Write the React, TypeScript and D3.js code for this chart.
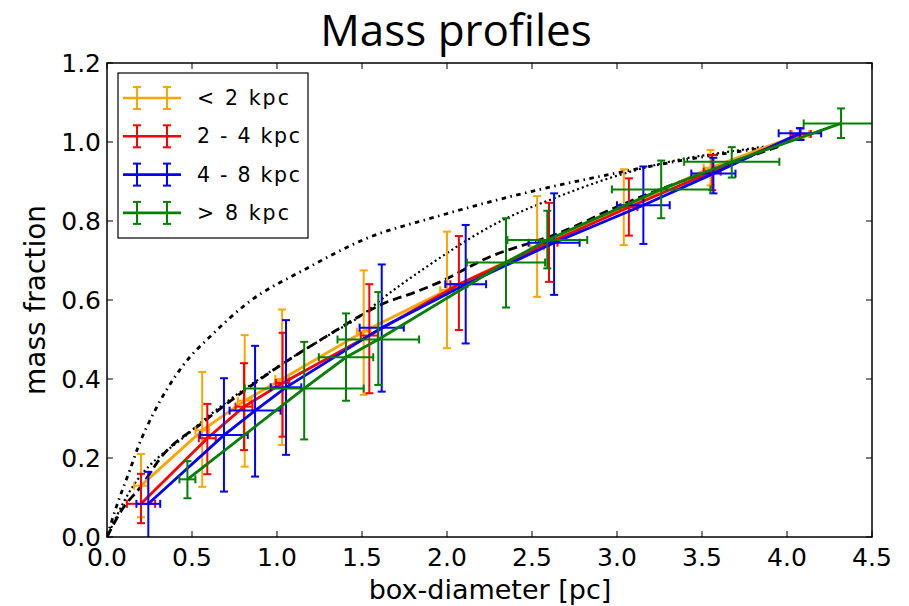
import React from "react";
import * as d3 from "d3";

// ---------- data ----------
const xTicks = [0, 0.5, 1.0, 1.5, 2.0, 2.5, 3.0, 3.5, 4.0, 4.5];
const yTicks = [0, 0.2, 0.4, 0.6, 0.8, 1.0, 1.2];

// [x, y, yLow, yHigh, xErr]
const lt2kpc = [
  [0.20, 0.13, 0.05, 0.21, 0.04],
  [0.56, 0.27, 0.127, 0.418, 0.04],
  [0.81, 0.345, 0.178, 0.511, 0.04],
  [1.03, 0.40, 0.233, 0.576, 0.04],
  [1.51, 0.52, 0.36, 0.675, 0.04],
  [2.00, 0.625, 0.478, 0.773, 0.04],
  [2.53, 0.735, 0.608, 0.863, 0.04],
  [3.04, 0.835, 0.739, 0.931, 0.04],
  [3.55, 0.935, 0.89, 0.98, 0.04],
  [4.08, 1.02, 1.008, 1.032, 0.05],
];
const kpc2to4 = [
  [0.20, 0.084, 0.035, 0.16, 0.083],
  [0.59, 0.25, 0.159, 0.337, 0.05],
  [0.806, 0.33, 0.22, 0.44, 0.05],
  [1.033, 0.39, 0.254, 0.517, 0.04],
  [1.543, 0.51, 0.364, 0.64, 0.05],
  [2.07, 0.64, 0.524, 0.762, 0.05],
  [2.60, 0.745, 0.646, 0.846, 0.05],
  [3.07, 0.835, 0.763, 0.908, 0.05],
  [3.56, 0.925, 0.878, 0.967, 0.05],
  [4.08, 1.02, 1.005, 1.035, 0.06],
];
const kpc4to8 = [
  [0.243, 0.084, -0.02, 0.165, 0.07],
  [0.688, 0.258, 0.115, 0.402, 0.14],
  [0.871, 0.32, 0.153, 0.484, 0.15],
  [1.053, 0.379, 0.208, 0.549, 0.09],
  [1.616, 0.53, 0.368, 0.69, 0.13],
  [2.11, 0.64, 0.49, 0.79, 0.12],
  [2.63, 0.745, 0.613, 0.87, 0.15],
  [3.155, 0.84, 0.742, 0.938, 0.155],
  [3.567, 0.92, 0.87, 0.96, 0.13],
  [4.076, 1.022, 1.005, 1.035, 0.125],
];
const gt8kpc = [
  [0.473, 0.146, 0.098, 0.192, 0.047],
  [1.16, 0.376, 0.247, 0.494, 0.35],
  [1.406, 0.455, 0.345, 0.566, 0.16],
  [1.596, 0.50, 0.385, 0.62, 0.24],
  [2.347, 0.695, 0.581, 0.807, 0.23],
  [2.59, 0.752, 0.68, 0.826, 0.235],
  [3.26, 0.88, 0.807, 0.953, 0.29],
  [3.675, 0.95, 0.91, 0.987, 0.28],
  [4.318, 1.047, 1.01, 1.085, 0.22],
];

// model curves [x, y]
const modelDashDot = [
  [0, 0], [0.05, 0.07], [0.135, 0.17], [0.184, 0.229], [0.27, 0.31], [0.44, 0.43],
  [0.625, 0.515], [0.82, 0.59], [1.175, 0.68], [1.527, 0.756], [1.93, 0.81],
  [2.45, 0.87], [2.98, 0.92], [3.39, 0.954], [3.7, 0.975], [3.96, 0.99],
];
const modelDotted = [
  [0, 0], [0.1, 0.09], [0.5, 0.27], [1.0, 0.43], [1.3, 0.51], [1.51, 0.565],
  [1.61, 0.6], [1.88, 0.684], [2.29, 0.794], [2.68, 0.866], [3.08, 0.925],
  [3.35, 0.954], [3.7, 0.978], [3.98, 0.995],
];
const modelDashed = [
  [0, 0], [0.086, 0.068], [0.2, 0.128], [0.32, 0.203], [0.557, 0.288], [1.008, 0.431],
  [1.29, 0.508], [1.49, 0.56], [1.606, 0.587], [1.82, 0.621], [1.94, 0.642],
  [2.23, 0.705], [2.68, 0.773], [3.0, 0.836], [3.5, 0.92], [3.96, 0.99],
];

const seriesLabels = ["< 2 kpc", "2 - 4 kpc", "4 - 8 kpc", "> 8 kpc"];
const seriesColors = ["#ffa500", "#ff0000", "#0000ff", "#008000"];
const seriesData = [lt2kpc, kpc2to4, kpc4to8, gt8kpc];

// ---------- layout ----------
const W = 909, H = 606;
const L = 107, R = 872, T = 63, B = 537;
const TICKFONT = "'DejaVu Sans', sans-serif";
const legendTextWidths = [92, 103, 103, 92];

export default function App() {
  const x = d3.scaleLinear().domain([0, 4.5]).range([L, R]);
  const y = d3.scaleLinear().domain([0, 1.2]).range([B, T]);
  const line = d3.line<number[]>().x(d => x(d[0])).y(d => y(d[1]));
  const smooth = d3.line<number[]>().x(d => x(d[0])).y(d => y(d[1])).curve(d3.curveMonotoneX);
  const cap = 4;

  const renderSeries = (data: number[][], color: string, i: number) => (
    <g key={i}>
      <path d={line(data) || ""} fill="none" stroke={color} strokeWidth={2.8} />
      {data.map((d, j) => {
        const cx = x(d[0]), cy = y(d[1]);
        const ylo = y(d[2]), yhi = y(d[3]);
        const xl = x(d[0] - d[4]), xr = x(d[0] + d[4]);
        return (
          <g key={j} stroke={color} strokeWidth={2}>
            <line x1={cx} x2={cx} y1={ylo} y2={yhi} />
            <line x1={cx - cap} x2={cx + cap} y1={ylo} y2={ylo} />
            <line x1={cx - cap} x2={cx + cap} y1={yhi} y2={yhi} />
            <line x1={xl} x2={xr} y1={cy} y2={cy} />
            <line x1={xl} x2={xl} y1={cy - cap} y2={cy + cap} />
            <line x1={xr} x2={xr} y1={cy - cap} y2={cy + cap} />
          </g>
        );
      })}
    </g>
  );

  return (
    <svg width={W} height={H} style={{ position: "fixed", left: 0, top: 0, background: "#fff" }}>
      <rect x={0} y={0} width={W} height={H} fill="#fff" />
      <defs>
        <clipPath id="plotclip">
          <rect x={L} y={T} width={R - L} height={B - T} />
        </clipPath>
      </defs>
      <text x={456} y={46} textAnchor="middle" fontFamily="'Open Sans', sans-serif" fontSize={44} fill="#000">
        Mass profiles
      </text>

      <g clipPath="url(#plotclip)">
        <path d={smooth(modelDashDot) || ""} fill="none" stroke="#000" strokeWidth={2.8} strokeDasharray="4.5,4.5,1.5,4.5" />
        <path d={smooth(modelDotted) || ""} fill="none" stroke="#000" strokeWidth={2.2} strokeDasharray="2,3" />
        <path d={smooth(modelDashed) || ""} fill="none" stroke="#000" strokeWidth={2.8} strokeDasharray="9,5" />
        {seriesData.map((s, i) => renderSeries(s, seriesColors[i], i))}
      </g>

      {/* frame */}
      <rect x={L} y={T} width={R - L} height={B - T} fill="none" stroke="#000" strokeWidth={1.5} />

      {/* x ticks */}
      {xTicks.map((t, i) => (
        <g key={"xt" + i}>
          <line x1={x(t)} x2={x(t)} y1={B} y2={B - 6} stroke="#000" strokeWidth={1} />
          <line x1={x(t)} x2={x(t)} y1={T} y2={T + 6} stroke="#000" strokeWidth={1} />
          <text x={x(t)} y={B + 29} textAnchor="middle" fontFamily={TICKFONT} fontSize={25} fill="#000">
            {t.toFixed(1)}
          </text>
        </g>
      ))}
      {/* y ticks */}
      {yTicks.map((t, i) => (
        <g key={"yt" + i}>
          <line x1={L} x2={L + 6} y1={y(t)} y2={y(t)} stroke="#000" strokeWidth={1} />
          <line x1={R} x2={R - 6} y1={y(t)} y2={y(t)} stroke="#000" strokeWidth={1} />
          <text x={L - 6} y={y(t) + 9} textAnchor="end" fontFamily={TICKFONT} fontSize={25} fill="#000">
            {t.toFixed(1)}
          </text>
        </g>
      ))}

      <text x={490} y={599} textAnchor="middle" fontFamily={TICKFONT} fontSize={27} fill="#000">
        box-diameter [pc]
      </text>
      <text transform={`translate(45,${(T + B) / 2}) rotate(-90)`} textAnchor="middle" fontFamily={TICKFONT} fontSize={28} fill="#000">
        mass fraction
      </text>

      {/* legend */}
      <rect x={118} y={73} width={190} height={165} fill="#fff" stroke="#000" strokeWidth={1.2} />
      {seriesLabels.map((lab, i) => {
        const ly = 98 + i * 38.3;
        const c = seriesColors[i];
        return (
          <g key={"lg" + i}>
            <g stroke={c} strokeWidth={2}>
              <line x1={123} x2={181} y1={ly} y2={ly} strokeWidth={2.6} />
              {[137, 167].map((mx, k) => (
                <g key={k}>
                  <line x1={mx} x2={mx} y1={ly - 11} y2={ly + 11} />
                  <line x1={mx - cap} x2={mx + cap} y1={ly - 11} y2={ly - 11} />
                  <line x1={mx - cap} x2={mx + cap} y1={ly + 11} y2={ly + 11} />
                </g>
              ))}
            </g>
            <text x={197} y={ly + 7} fontFamily={TICKFONT} fontSize={20.5} fill="#000"
              textLength={legendTextWidths[i]} lengthAdjust="spacing" style={{ whiteSpace: "pre" }}>
              {lab}
            </text>
          </g>
        );
      })}
    </svg>
  );
}
